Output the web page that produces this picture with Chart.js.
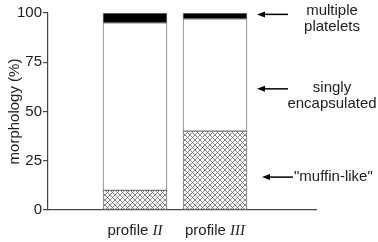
<!DOCTYPE html>
<html lang="en">
<head>
  <meta charset="UTF-8" />
  <title>morphology</title>
  <script src="https://cdn.jsdelivr.net/npm/chart.js"></script>
  <style>
    * { margin: 0; padding: 0; box-sizing: border-box; }
    body { background: #fff; }
    .wrap { width: 378px; height: 242px; }
  </style>
</head>
<body>
  <div class="wrap"><canvas id="morph"></canvas></div>

  <script>
    // data
    const profiles = ['II', 'III'];
    const muffinLike = [10, 40];
    const singly = [85, 57];
    const multiple = [5, 3];
    const yTicks = [0, 25, 50, 75, 100];

    // arrows on the right side
    const noteLines = [['multiple', 'platelets'], ['singly', 'encapsulated'], ['"muffin-like"']];
    const noteValues = [99.3, 61.5, 16.7];

    const sans = "'Liberation Sans', Arial, sans-serif";
    const serif = "'Liberation Serif', 'Times New Roman', serif";

    function hatch() {
      const c = document.createElement('canvas');
      c.width = 5; c.height = 5;
      const g = c.getContext('2d');
      g.fillStyle = '#fff';
      g.fillRect(0, 0, 5, 5);
      g.strokeStyle = '#666';
      g.lineWidth = 0.8;
      g.beginPath();
      g.moveTo(0, 0); g.lineTo(5, 5);
      g.moveTo(0, 5); g.lineTo(5, 0);
      g.moveTo(-1, 4); g.lineTo(1, 6);
      g.moveTo(4, -1); g.lineTo(6, 1);
      g.stroke();
      return g.createPattern(c, 'repeat');
    }

    const pts = arr => arr.map((v, i) => ({ x: i + 1, y: v }));

    const extras = {
      id: 'extras',
      afterDraw(chart) {
        const ctx = chart.ctx;
        const xs = chart.scales.x, ys = chart.scales.y;
        const area = chart.chartArea;
        ctx.save();
        ctx.fillStyle = '#222';
        ctx.textBaseline = 'middle';

        // category labels: "profile" + italic roman numeral
        profiles.forEach((p, i) => {
          const cx = xs.getPixelForValue(i + 1);
          ctx.font = '15px ' + sans;
          const w1 = ctx.measureText('profile ').width;
          ctx.font = 'italic 15px ' + serif;
          const w2 = ctx.measureText(p).width;
          let x = cx - (w1 + w2) / 2;
          ctx.textAlign = 'left';
          ctx.font = '15px ' + sans;
          ctx.fillText('profile ', x, 231);
          ctx.font = 'italic 15px ' + serif;
          ctx.fillText(p, x + w1, 231);
        });

        // arrows and notes
        const shift = [-4, -1];
        ctx.strokeStyle = '#000';
        ctx.lineWidth = 1.5;
        noteValues.forEach((v, i) => {
          const y = ys.getPixelForValue(v);
          const last = i === noteValues.length - 1;
          const x0 = area.right - 59 + (last ? 5 : 0);
          const x1 = x0 + 31;
          ctx.beginPath();
          ctx.moveTo(x0 + 6, y);
          ctx.lineTo(x1, y);
          ctx.stroke();
          ctx.beginPath();
          ctx.moveTo(x0, y);
          ctx.lineTo(x0 + 8, y - 3);
          ctx.lineTo(x0 + 8, y + 3);
          ctx.closePath();
          ctx.fillStyle = '#000';
          ctx.fill();
          ctx.fillStyle = '#222';
          ctx.font = '15px ' + sans;
          const lines = noteLines[i];
          if (last) {
            ctx.textAlign = 'left';
            ctx.fillText(lines[0], x1 + 1, y);
          } else {
            ctx.textAlign = 'center';
            const cx = area.right + 16;
            lines.forEach((t, k) => ctx.fillText(t, cx, y + shift[i] + k * 16));
          }
        });
        ctx.restore();
      }
    };

    const common = { stack: 's', barThickness: 64, borderWidth: 1, borderColor: '#777', borderSkipped: false };

    new Chart(document.getElementById('morph'), {
      type: 'bar',
      data: {
        datasets: [
          { ...common, label: '"muffin-like"', data: pts(muffinLike), backgroundColor: hatch() },
          { ...common, label: 'singly encapsulated', data: pts(singly), backgroundColor: '#fff' },
          { ...common, label: 'multiple platelets', data: pts(multiple), backgroundColor: '#000' }
        ]
      },
      options: {
        responsive: true,
        maintainAspectRatio: false,
        animation: false,
        layout: { padding: { top: 13, right: 62, left: 0, bottom: 0 } },
        plugins: { legend: { display: false }, tooltip: { enabled: false } },
        scales: {
          x: {
            type: 'linear',
            offset: false,
            min: -0.0875,
            max: 3.2625,
            grid: { display: false, offset: false },
            border: { display: true, color: '#444', width: 1.2 },
            ticks: { display: false },
            afterFit: s => { s.height = 32; }
          },
          y: {
            stacked: true,
            min: 0,
            max: 100,
            afterBuildTicks: s => { s.ticks = yTicks.map(v => ({ value: v })); },
            grid: { display: true, drawOnChartArea: false, tickLength: 5, color: '#444', lineWidth: 1.2 },
            border: { display: true, color: '#444', width: 1.2 },
            ticks: { padding: 1, color: '#222', font: { family: sans, size: 15 } },
            title: { display: true, text: 'morphology (%)', color: '#222', padding: { top: 6, bottom: 0 }, font: { family: sans, size: 15 } },
            afterFit: s => { s.width = 48; }
          }
        }
      },
      plugins: [extras]
    });
  </script>
</body>
</html>
